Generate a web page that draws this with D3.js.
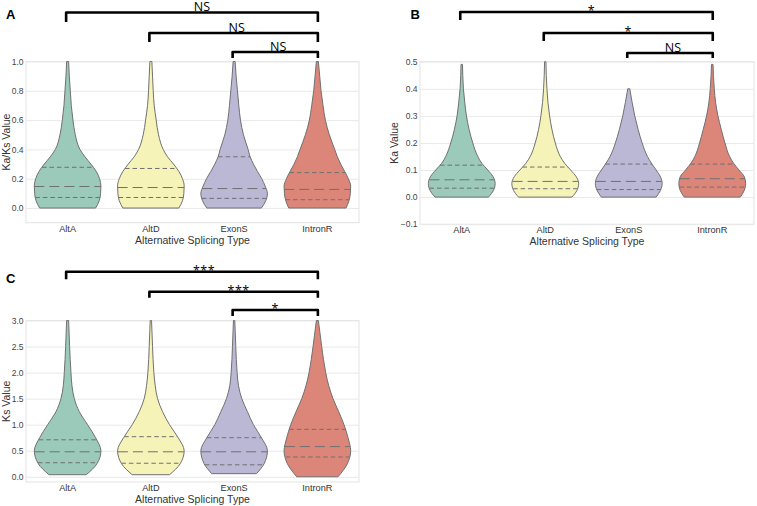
<!DOCTYPE html>
<html><head><meta charset="utf-8">
<script src="https://cdn.jsdelivr.net/npm/d3@7"></script>
<style>body{margin:0;background:#fff}svg{display:block}</style>
</head><body><svg id="chart" width="757" height="506"></svg>
<script>
// ---------------- data ----------------
const categories = ["AltA", "AltD", "ExonS", "IntronR"];
const colors = ["#9bc9ba", "#f6f3b8", "#bbb8d6", "#db8679"];
const pairs = [[0, 3], [1, 3], [2, 3]];

// Panel A : Ka/Ks
const kaksGrid = [0, 0.05, 0.1, 0.15, 0.2, 0.25, 0.3, 0.35, 0.4, 0.5, 0.6, 0.7, 0.8, 0.9, 1.0];
const kaksWidths = [
  [0.84, 0.95, 0.99, 1.0, 0.96, 0.86, 0.7, 0.52, 0.37, 0.23, 0.16, 0.11, 0.08, 0.05, 0.03],
  [0.84, 0.95, 0.99, 1.0, 0.95, 0.84, 0.68, 0.5, 0.37, 0.23, 0.16, 0.1, 0.07, 0.05, 0.03],
  [0.82, 0.95, 1.0, 0.93, 0.83, 0.7, 0.58, 0.48, 0.42, 0.28, 0.19, 0.14, 0.1, 0.06, 0.03],
  [0.86, 0.95, 0.99, 1.0, 0.93, 0.82, 0.7, 0.6, 0.52, 0.36, 0.24, 0.17, 0.11, 0.07, 0.03]
];
const kaksMin = [0, 0, 0, 0];
const kaksMax = [1.0, 1.0, 1.0, 1.0];
const kaksQuartiles = [[0.072, 0.147, 0.278], [0.072, 0.14, 0.27], [0.066, 0.133, 0.35], [0.057, 0.127, 0.242]];
const kaksTicks = [0, 0.2, 0.4, 0.6, 0.8, 1.0];
const kaksSig = ["NS", "NS", "NS"];

// Panel B : Ka
const kaGrid = [0, 0.025, 0.05, 0.075, 0.1, 0.125, 0.15, 0.2, 0.25, 0.3, 0.35, 0.4, 0.45, 0.5];
const kaWidths = [
  [0.8, 0.95, 1.0, 0.94, 0.78, 0.6, 0.48, 0.33, 0.22, 0.14, 0.09, 0.05, 0.03, 0.02],
  [0.8, 0.95, 1.0, 0.93, 0.76, 0.58, 0.45, 0.3, 0.2, 0.13, 0.08, 0.05, 0.03, 0.02],
  [0.82, 0.95, 1.0, 0.95, 0.82, 0.68, 0.56, 0.4, 0.28, 0.18, 0.1, 0.03, 0.02, 0.02],
  [0.84, 0.96, 1.0, 0.96, 0.8, 0.64, 0.52, 0.38, 0.27, 0.17, 0.1, 0.06, 0.035, 0.02]
];
const kaMin = [0, 0, 0, 0];
const kaMax = [0.49, 0.5, 0.40, 0.49];
const kaQuartiles = [[0.033, 0.064, 0.118], [0.031, 0.058, 0.111], [0.028, 0.058, 0.122], [0.037, 0.068, 0.122]];
const kaTicks = [-0.1, 0, 0.1, 0.2, 0.3, 0.4, 0.5];
const kaSig = ["*", "*", "NS"];

// Panel C : Ks
const ksGrid = [0, 0.25, 0.5, 0.75, 1.0, 1.25, 1.5, 1.75, 2.0, 2.5, 3.0];
const ksWidths = [
  [0.5, 0.88, 1.0, 0.84, 0.6, 0.35, 0.2, 0.13, 0.1, 0.06, 0.03],
  [0.5, 0.88, 1.0, 0.82, 0.56, 0.35, 0.2, 0.13, 0.09, 0.05, 0.02],
  [0.6, 0.9, 1.0, 0.82, 0.58, 0.4, 0.23, 0.13, 0.09, 0.05, 0.02],
  [0.62, 0.9, 1.0, 0.92, 0.8, 0.64, 0.47, 0.34, 0.25, 0.13, 0.03]
];
const ksMin = [0.04, 0.04, 0.06, 0];
const ksMax = [3.0, 3.0, 3.0, 3.0];
const ksQuartiles = [[0.27, 0.48, 0.71], [0.26, 0.48, 0.77], [0.23, 0.48, 0.75], [0.38, 0.58, 0.91]];
const ksTicks = [0, 0.5, 1.0, 1.5, 2.0, 2.5, 3.0];
const ksSig = ["***", "***", "*"];

// ---------------- drawing ----------------
const svg = d3.select("#chart");
const FONT = "'Liberation Sans', Arial, sans-serif";

function drawPanel(p) {
  const g = svg.append("g");
  const x = d3.scaleBand().domain(categories).range([p.left, p.right]).padding(0);
  const y = d3.scaleLinear().domain(p.domain).range([p.bottom, p.top]);
  const halfMax = x.bandwidth() * 0.8 / 2;

  // frame + grid
  g.append("rect").attr("x", p.left).attr("y", p.top)
    .attr("width", p.right - p.left).attr("height", p.bottom - p.top)
    .attr("fill", "none").attr("stroke", "#e3e3e3").attr("stroke-width", 1);
  const yAxis = d3.axisLeft(y).tickValues(p.ticks).tickFormat(d3.format(".1f"))
    .tickSize(-(p.right - p.left)).tickPadding(2.5);
  const ya = g.append("g").attr("transform", `translate(${p.left},0)`).call(yAxis);
  ya.select(".domain").remove();
  ya.selectAll(".tick line").attr("stroke", "#e9e9e9");
  ya.selectAll(".tick text").attr("font-family", FONT).attr("font-size", 8.5).attr("fill", "#444")
    .text(d => d3.format(".1f")(d).replace("-", "\u2212"));

  const xAxis = d3.axisBottom(x).tickSize(0).tickPadding(2.5);
  const xa = g.append("g").attr("transform", `translate(0,${p.bottom})`).call(xAxis);
  xa.select(".domain").remove();
  xa.selectAll(".tick text").attr("font-family", FONT).attr("font-size", 9.2).attr("fill", "#333");

  // violins
  categories.forEach((c, i) => {
    const wInterp = d3.scaleLinear().domain(p.grid).range(p.widths[i]).clamp(true);
    const lo = p.min[i], hi = p.max[i];
    const pts = [[lo, wInterp(lo)]];
    p.grid.forEach(v => { if (v > lo + 1e-9 && v < hi - 1e-9) pts.push([v, wInterp(v)]); });
    pts.push([hi, Math.min(wInterp(hi), 0.03)]);
    const cx = x(c) + x.bandwidth() / 2;
    const area = d3.area()
      .y(d => y(d[0]))
      .x0(d => cx - d[1] * halfMax)
      .x1(d => cx + d[1] * halfMax)
      .curve(d3.curveMonotoneY);
    g.append("path").attr("d", area(pts))
      .attr("fill", colors[i]).attr("stroke", "#707070").attr("stroke-width", 1);
    p.quartiles[i].forEach((q, k) => {
      const hw = wInterp(q) * halfMax;
      g.append("line").attr("x1", cx - hw).attr("x2", cx + hw)
        .attr("y1", y(q)).attr("y2", y(q))
        .attr("stroke", "#707070").attr("stroke-width", 1)
        .attr("stroke-dasharray", k === 1 ? "10,5" : "4.5,3");
    });
  });

  // axis titles
  g.append("text").attr("x", (p.left + p.right) / 2).attr("y", p.bottom + 21)
    .attr("text-anchor", "middle").attr("font-family", FONT).attr("font-size", 10.5).attr("fill", "#333")
    .text("Alternative Splicing Type");
  g.append("text").attr("transform", `translate(${p.ylabelX},${(p.top + p.bottom) / 2}) rotate(-90)`)
    .attr("text-anchor", "middle").attr("font-family", FONT).attr("font-size", 10.5).attr("fill", "#333")
    .text(p.ylabel);

  // panel letter
  g.append("text").attr("x", p.letterX).attr("y", p.letterY)
    .attr("font-family", FONT).attr("font-weight", "bold").attr("font-size", 13).attr("fill", "#000")
    .text(p.letter);

  // significance brackets
  pairs.forEach((pr, k) => {
    const xa1 = x(categories[pr[0]]) + x.bandwidth() / 2 - 1.5;
    const xb1 = x(categories[pr[1]]) + x.bandwidth() / 2 + 0.5;
    const by = p.bracketY[k], drop = p.bracketDrop[k];
    g.append("path").attr("d", `M${xa1},${by + drop}V${by}H${xb1}V${by + drop}`)
      .attr("fill", "none").attr("stroke", "#000").attr("stroke-width", 2.6)
      .attr("stroke-linejoin", "round");
    const lab = p.sig[k];
    const isStar = lab.indexOf("*") >= 0;
    g.append("text").attr("x", (xa1 + xb1) / 2 + p.labelDx[k])
      .attr("y", by + (isStar ? 3 : -1.2))
      .attr("text-anchor", "middle")
      .attr("font-family", "'Open Sans', 'Liberation Sans', sans-serif")
      .attr("font-size", 12.5).attr("fill", "#000")
      .attr("letter-spacing", isStar ? 0.5 : 0)
      .text(lab);
  });
}

drawPanel({
  left: 26, right: 359, top: 61.5, bottom: 222.7, domain: [-0.1, 1.0],
  grid: kaksGrid, widths: kaksWidths, min: kaksMin, max: kaksMax,
  quartiles: kaksQuartiles, ticks: kaksTicks, sig: kaksSig,
  ylabel: "Ka/Ks Value", ylabelX: 9.5, letter: "A", letterX: 6, letterY: 18.5,
  bracketY: [12.5, 33, 52], bracketDrop: [9.5, 9, 6], labelDx: [10, 3, 3]
});
drawPanel({
  left: 420, right: 754, top: 61.7, bottom: 224.2, domain: [-0.1, 0.5],
  grid: kaGrid, widths: kaWidths, min: kaMin, max: kaMax,
  quartiles: kaQuartiles, ticks: kaTicks, sig: kaSig,
  ylabel: "Ka Value", ylabelX: 398, letter: "B", letterX: 410.5, letterY: 18.5,
  bracketY: [12, 33, 53], bracketDrop: [8, 8, 5], labelDx: [5, 0, 3]
});
drawPanel({
  left: 26, right: 359, top: 320.5, bottom: 482, domain: [-0.1, 3.0],
  grid: ksGrid, widths: ksWidths, min: ksMin, max: ksMax,
  quartiles: ksQuartiles, ticks: ksTicks, sig: ksSig,
  ylabel: "Ks Value", ylabelX: 9.5, letter: "C", letterX: 6, letterY: 282.5,
  bracketY: [271.7, 291.7, 310], bracketDrop: [7.5, 6, 6], labelDx: [12, 5, 0]
});
</script>
</body></html>
